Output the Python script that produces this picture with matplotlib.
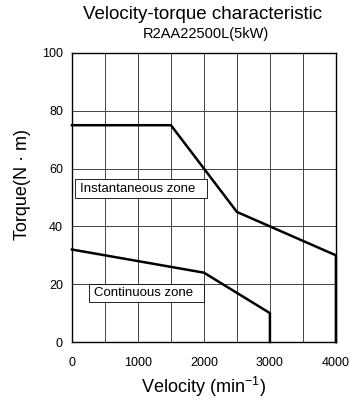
import matplotlib
matplotlib.use("Agg")
import matplotlib.pyplot as plt
from matplotlib.patches import Rectangle

plt.rcParams['font.family'] = ['Liberation Sans', 'DejaVu Sans']

# instantaneous zone boundary
inst_speed = [0, 1500, 2500, 4000, 4000]
inst_torque = [75, 75, 45, 30, 0]
# continuous zone boundary
cont_speed = [0, 2000, 3000, 3000]
cont_torque = [32, 24, 10, 0]

x_ticks = [0, 1000, 2000, 3000, 4000]
y_ticks = [0, 20, 40, 60, 80, 100]

fig = plt.figure(figsize=(3.51, 4.01), dpi=100)
ax = fig.add_axes([0.205, 0.147, 0.752, 0.721])

ax.set_xlim(0, 4000)
ax.set_ylim(0, 100)
ax.set_xticks(x_ticks)
ax.set_yticks(y_ticks)
ax.set_xticks(range(500, 4000, 1000), minor=True)
ax.tick_params(which='both', length=0, labelsize=9)
ax.tick_params(axis='x', pad=11)
ax.tick_params(axis='y', pad=6.5)
ax.grid(True, which='both', axis='x', color='#444444', linewidth=0.7)
ax.grid(True, which='major', axis='y', color='#444444', linewidth=0.7)
for s in ax.spines.values():
    s.set_linewidth(1.0)

ax.plot(inst_speed, inst_torque, color='black', linewidth=1.8, solid_joinstyle='miter', clip_on=False, zorder=3)
ax.plot(cont_speed, cont_torque, color='black', linewidth=1.8, solid_joinstyle='miter', clip_on=False, zorder=3)

# zone label boxes
ax.add_patch(Rectangle((45, 49.8), 2000, 6.6, facecolor='white', edgecolor='black', linewidth=0.6, zorder=4))
ax.text(121, 53.0, 'Instantaneous zone', fontsize=9.5, va='center', ha='left', zorder=5)
ax.add_patch(Rectangle((258, 13.8), 1742, 6.3, facecolor='white', edgecolor='black', linewidth=0.6, zorder=4))
ax.text(333, 17.0, 'Continuous zone', fontsize=9.5, va='center', ha='left', zorder=5)

ax.set_xlabel('Velocity (min$^{\\mathregular{-1}}$)', fontsize=13, labelpad=4)
ax.set_ylabel('Torque(N \u00b7 m)', fontsize=13)
ax.yaxis.set_label_coords(-0.155, 0.545)

fig.text(0.578, 0.963, 'Velocity-torque characteristic', fontsize=13.5, ha='center', va='center')
fig.text(0.587, 0.915, 'R2AA22500L(5kW)', fontsize=10.5, ha='center', va='center')

fig.savefig('out.png', dpi=100)
